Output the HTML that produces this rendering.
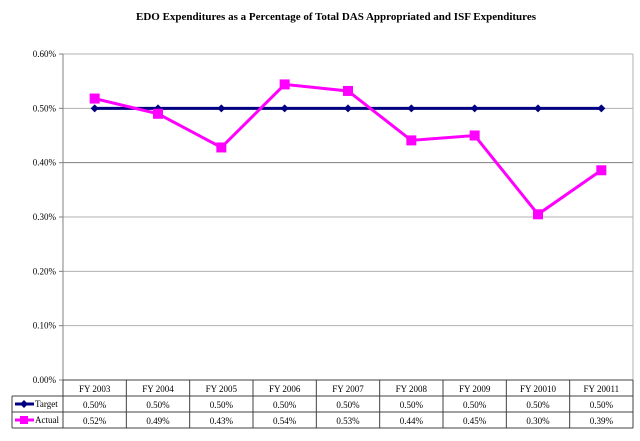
<!DOCTYPE html>
<html><head><meta charset="utf-8"><style>
body{margin:0;background:#fff;}
svg text{font-family:"Liberation Serif",serif;}
</style></head><body>
<svg width="640" height="436" xmlns="http://www.w3.org/2000/svg">
<text x="336" y="20" text-anchor="middle" font-size="11" font-weight="bold">EDO Expenditures as a Percentage of Total DAS Appropriated and ISF Expenditures</text>
<g id="grid"></g><g id="series"></g><g id="table"></g>
</svg>
<script>
const categories=["FY 2003","FY 2004","FY 2005","FY 2006","FY 2007","FY 2008","FY 2009","FY 20010","FY 20011"];
const target=[0.50,0.50,0.50,0.50,0.50,0.50,0.50,0.50,0.50];
const actual=[0.518,0.490,0.428,0.544,0.532,0.441,0.450,0.305,0.386];
const targetLabels=["0.50%","0.50%","0.50%","0.50%","0.50%","0.50%","0.50%","0.50%","0.50%"];
const actualLabels=["0.52%","0.49%","0.43%","0.54%","0.53%","0.44%","0.45%","0.30%","0.39%"];
const ticks=[0,0.1,0.2,0.3,0.4,0.5,0.6];
const tickLabels=["0.00%","0.10%","0.20%","0.30%","0.40%","0.50%","0.60%"];
const NS="http://www.w3.org/2000/svg";
const L=63,R=633,T=54,B=380,cw=(R-L)/categories.length;
const y=v=>B-(v/0.6)*(B-T);
const x=i=>L+cw*(i+0.5);
function mk(tag,attrs,parent,txt){const e=document.createElementNS(NS,tag);for(const k in attrs)e.setAttribute(k,attrs[k]);if(txt!==undefined)e.textContent=txt;parent.appendChild(e);return e;}
const g=document.getElementById('grid'),s=document.getElementById('series'),t=document.getElementById('table');
ticks.forEach((v,i)=>{
 if(i>0){const l=mk('line',{x1:L,x2:R,y1:y(v),y2:y(v),stroke:i==4?'#808080':'#b0b0b0','stroke-width':1},g);
 
 }
 const tk=mk('line',{x1:L-4,x2:L,y1:y(v),y2:y(v),stroke:'#808080'},g);
 
 
 const tx=mk('text',{x:L-7,y:y(v)+3,'text-anchor':'end','font-size':'9'},g,tickLabels[i]);
 
 
});
const ax=mk('line',{x1:L,x2:L,y1:T,y2:B,stroke:'#808080'},g);


const rb=mk('line',{x1:R,x2:R,y1:T,y2:B,stroke:'#b0b0b0'},g);


const tl=mk('polyline',{points:target.map((v,i)=>x(i)+','+y(v)).join(' '),fill:'none',stroke:'#000080','stroke-width':3},s);


const al=mk('polyline',{points:actual.map((v,i)=>x(i)+','+y(v)).join(' '),fill:'none',stroke:'#ff00ff','stroke-width':3},s);


target.forEach((v,i)=>{const p=mk('polygon',{points:`${x(i)},${y(v)-4} ${x(i)+4},${y(v)} ${x(i)},${y(v)+4} ${x(i)-4},${y(v)}`,fill:'#000080'},s);
 
 });
actual.forEach((v,i)=>{const p=mk('rect',{x:x(i)-5,y:y(v)-5,width:10,height:10,fill:'#ff00ff'},s);
 
 });
// table
const rows=[380,396,412,428];
[[L,R,380],[12,R,396],[12,R,412],[12,R,428]].forEach(a=>{const l=mk('line',{x1:a[0],x2:a[1],y1:a[2],y2:a[2],stroke:'#404040'},t);
 
 });
const lb=mk('line',{x1:12,x2:12,y1:396,y2:428,stroke:'#404040'},t);


for(let i=0;i<=categories.length;i++){const l=mk('line',{x1:L+cw*i,x2:L+cw*i,y1:380,y2:428,stroke:'#404040'},t);
 
 }
categories.forEach((c,i)=>{
 const a=mk('text',{x:x(i),y:392,'text-anchor':'middle','font-size':'9'},t,c);
 
 
 const b=mk('text',{x:x(i),y:408,'text-anchor':'middle','font-size':'9'},t,targetLabels[i]);
 
 
 const d=mk('text',{x:x(i),y:424,'text-anchor':'middle','font-size':'9'},t,actualLabels[i]);
 
 
});
const k1=mk('line',{x1:15,x2:34,y1:404,y2:404,stroke:'#000080','stroke-width':3},t);


const k1p=mk('polygon',{points:'24,400 28,404 24,408 20,404',fill:'#000080'},t);


const k1t=mk('text',{x:35,y:407,'font-size':'9'},t,'Target');


const k2=mk('line',{x1:15,x2:34,y1:420,y2:420,stroke:'#ff00ff','stroke-width':3},t);


const k2p=mk('rect',{x:20,y:416,width:8,height:8,fill:'#ff00ff'},t);


const k2t=mk('text',{x:35,y:423,'font-size':'9'},t,'Actual');


</script>
</body></html>
